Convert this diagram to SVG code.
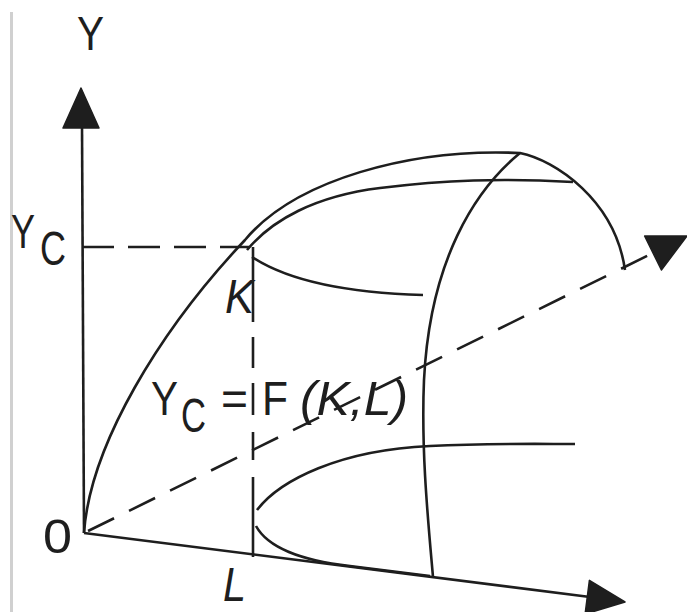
<svg xmlns="http://www.w3.org/2000/svg" width="687" height="612" viewBox="0 0 687 612">
<style>
.ln{fill:none;stroke:#1e1e1e;stroke-width:2.6;stroke-linecap:butt;stroke-linejoin:round}
.ds{stroke-dasharray:29 16.7}
.hd{stroke-dasharray:32 14}
.ah{fill:#1e1e1e;stroke:#1e1e1e;stroke-width:1.5;stroke-linejoin:round}
.t{font-family:"Liberation Sans",Arial,sans-serif;fill:#1e1e1e;font-size:48px}
.it{font-style:italic}
</style>
<rect width="687" height="612" fill="#ffffff"/>
<line x1="11.5" y1="12" x2="11.5" y2="612" stroke="#d0d0d0" stroke-width="3"/>
<g id="axes">
  <line class="ln" x1="82" y1="125" x2="84" y2="533"/>
  <polygon class="ah" points="81,88 63,128 99,128"/>
  <line class="ln" x1="84" y1="533" x2="590" y2="597"/>
  <polygon class="ah" points="625,602 589.4,580.3 585.1,614.1"/>
</g>
<g id="connectors">
  <line class="ln ds" x1="84" y1="533" x2="650" y2="254.5" stroke-dashoffset="41.2"/>
  <polygon class="ah" points="687,236 644.6,236 661.4,270"/>
  <line class="ln hd" x1="82" y1="247" x2="250" y2="247"/>
  <path class="ln" d="M253,247 L253,322 M253,337 L253,368 M253,383 L253,415 M253,432 L253,460 M253,477 L253,557"/>
</g>
<g id="surface">
  <path class="ln" d="M84,533 C90,445 160,330 245,240 C295,180 410,148 520,153 C555,160 615,200 625,270"/>
  <path class="ln" d="M247,250 C272,220 315,196 380,188 S500,178 573,182"/>
  <path class="ln" d="M252,257 C290,282 350,293 423,295"/>
  <path class="ln" d="M520,153 C475,190 430,260 424,380 C421,450 428,520 433,577"/>
  <path class="ln" d="M257,510 C280,480 340,450 430,446 C490,443 540,444 575,444"/>
  <path class="ln" d="M256,526 C268,548 300,560 350,566 L430,576"/>
</g>
<g id="labels">
  <text class="t" x="77" y="50" font-size="50" textLength="27" lengthAdjust="spacingAndGlyphs">Y</text>
  <text class="t" x="11" y="248" textLength="24" lengthAdjust="spacingAndGlyphs">Y</text>
  <text class="t" x="40" y="265" font-size="46" textLength="26" lengthAdjust="spacingAndGlyphs">C</text>
  <text class="t it" x="225" y="313" textLength="29" lengthAdjust="spacingAndGlyphs">K</text>
  <text class="t" x="43" y="553" font-size="52" textLength="29" lengthAdjust="spacingAndGlyphs">0</text>
  <text class="t it" x="223" y="601" font-size="42" textLength="23" lengthAdjust="spacingAndGlyphs">L</text>
  <text class="t" x="151" y="415" textLength="27" lengthAdjust="spacingAndGlyphs">Y</text>
  <text class="t" x="181" y="432" font-size="46" textLength="25" lengthAdjust="spacingAndGlyphs">C</text>
  <text class="t" x="221" y="415" textLength="27" lengthAdjust="spacingAndGlyphs">=</text>
  <text class="t" x="262" y="415" textLength="26" lengthAdjust="spacingAndGlyphs">F</text>
  <text class="t it" x="300" y="415" textLength="108" lengthAdjust="spacingAndGlyphs">(K,L)</text>
</g>
</svg>
